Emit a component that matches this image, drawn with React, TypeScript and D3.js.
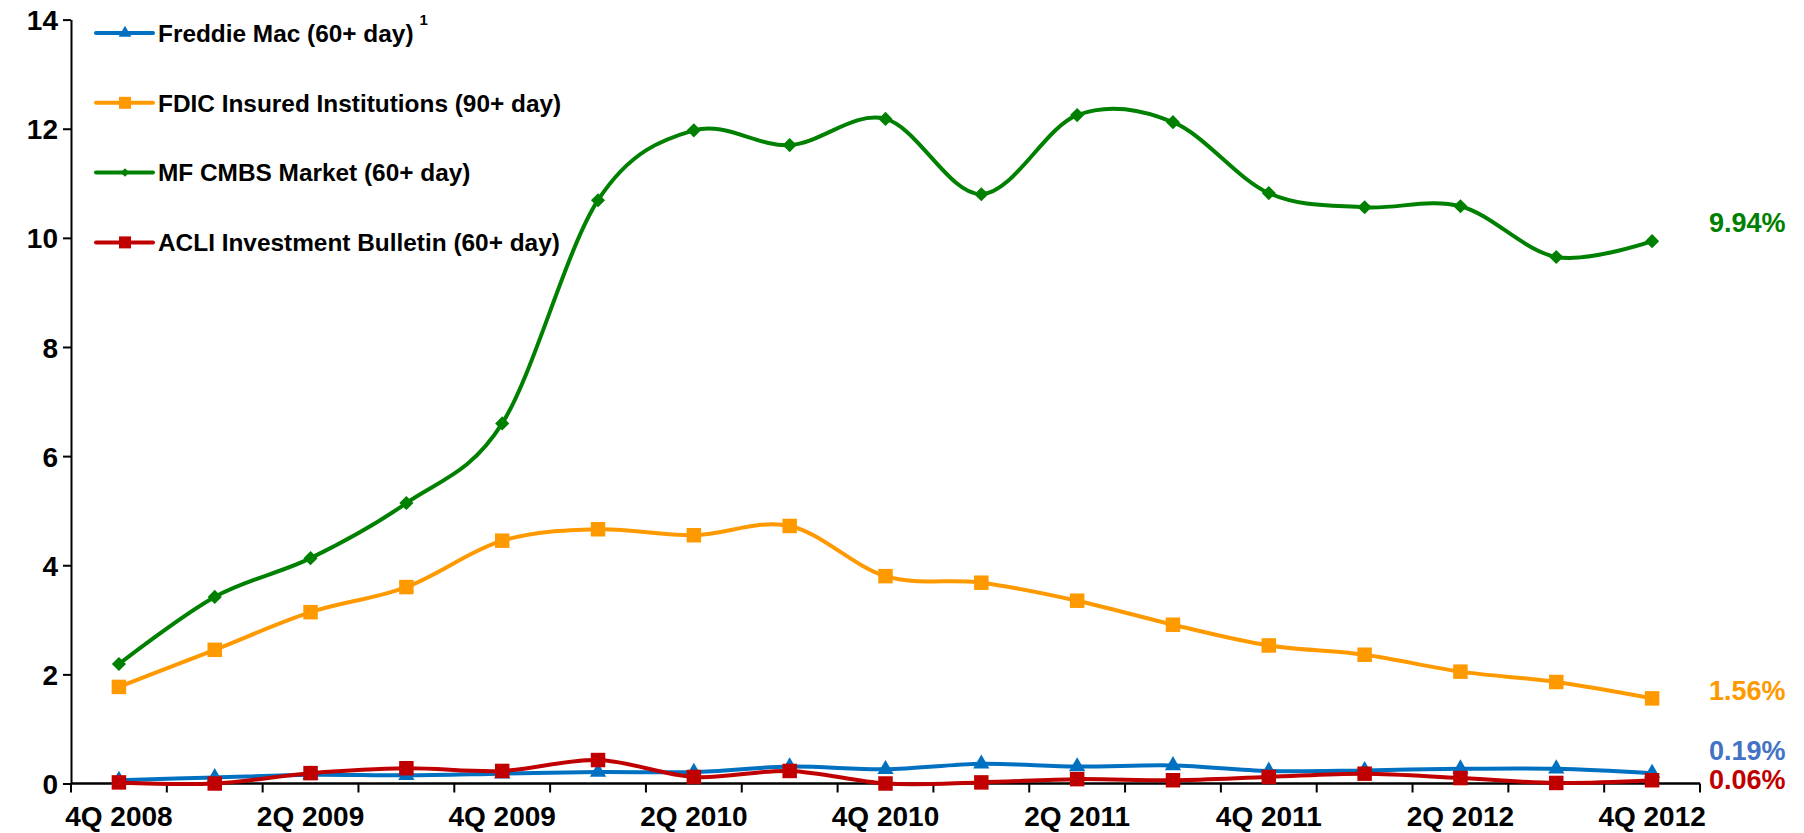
import React, { useEffect, useRef } from 'react';
import * as d3 from 'd3';

const WIDTH = 1804;
const HEIGHT = 833;

const quarters = [
  '4Q 2008', '1Q 2009', '2Q 2009', '3Q 2009', '4Q 2009', '1Q 2010', '2Q 2010', '3Q 2010', '4Q 2010',
  '1Q 2011', '2Q 2011', '3Q 2011', '4Q 2011', '1Q 2012', '2Q 2012', '3Q 2012', '4Q 2012',
];

const freddie = [0.06, 0.11, 0.16, 0.15, 0.18, 0.21, 0.21, 0.31, 0.26, 0.36, 0.31, 0.33, 0.23, 0.24, 0.27, 0.27, 0.19];
const fdic = [1.77, 2.45, 3.14, 3.6, 4.45, 4.66, 4.55, 4.72, 3.8, 3.68, 3.35, 2.91, 2.53, 2.36, 2.05, 1.86, 1.56];
const cmbs = [2.19, 3.42, 4.13, 5.14, 6.6, 10.69, 11.97, 11.7, 12.18, 10.8, 12.25, 12.12, 10.82, 10.56, 10.58, 9.65, 9.94];
const acli = [0.02, 0.0, 0.19, 0.28, 0.23, 0.43, 0.12, 0.23, 0.0, 0.02, 0.08, 0.06, 0.12, 0.18, 0.10, 0.01, 0.06];

const yTicks = [0, 2, 4, 6, 8, 10, 12, 14];

const series = [
  { name: 'Freddie Mac (60+ day)', sup: '1', values: freddie, color: '#0070C0', labelColor: '#4472C4', marker: 'triangle', endLabel: '0.19%', labelDy: -23 },
  { name: 'FDIC Insured Institutions (90+ day)', sup: '', values: fdic, color: '#FF9900', labelColor: '#FF9900', marker: 'square', endLabel: '1.56%', labelDy: -8 },
  { name: 'MF CMBS Market (60+ day)', sup: '', values: cmbs, color: '#008000', labelColor: '#008000', marker: 'diamond', endLabel: '9.94%', labelDy: -19 },
  { name: 'ACLI Investment Bulletin (60+ day)', sup: '', values: acli, color: '#C00000', labelColor: '#C00000', marker: 'square', endLabel: '0.06%', labelDy: -1 },
];

const FONT = '"Liberation Sans", Arial, sans-serif';

const markerPath = (type, big) => {
  if (type === 'triangle') return d3.symbol(d3.symbolTriangle, big ? 115 : 70)();
  if (type === 'diamond') return d3.symbol(d3.symbolSquare, big ? 100 : 36)();
  return d3.symbol(d3.symbolSquare, big ? 210 : 144)();
};

export default function App() {
  const ref = useRef(null);

  useEffect(() => {
    const svg = d3.select(ref.current);
    svg.selectAll('*').remove();

    const x = d3.scaleBand().domain(quarters).range([71, 1700]).padding(0);
    const cx = (q) => x(q) + x.bandwidth() / 2;
    const y = d3.scaleLinear().domain([0, 14]).range([783.5, 19.6]);

    // y axis
    const yAxis = svg.append('g').attr('transform', 'translate(71,0)')
      .call(d3.axisLeft(y).tickValues(yTicks).tickSize(8).tickSizeOuter(0).tickPadding(5));
    yAxis.select('.domain').attr('stroke', '#000').attr('stroke-width', 2);
    yAxis.selectAll('.tick line').attr('stroke', '#000').attr('stroke-width', 2);
    yAxis.selectAll('.tick text')
      .attr('font-family', FONT).attr('font-weight', 'bold').attr('font-size', 28).attr('fill', '#000')
      .attr('dy', '0.36em');

    // x axis: ticks at band boundaries
    const xAxis = svg.append('g').attr('transform', `translate(0,${y(0)})`);
    xAxis.append('line').attr('x1', 71).attr('x2', 1700).attr('stroke', '#000').attr('stroke-width', 2.5);
    const bounds = quarters.map(q => x(q)).concat([x(quarters[quarters.length - 1]) + x.bandwidth()]);
    xAxis.selectAll('.xt').data(bounds).enter().append('line')
      .attr('x1', d => d).attr('x2', d => d).attr('y1', 0).attr('y2', 9)
      .attr('stroke', '#000').attr('stroke-width', 2);
    xAxis.selectAll('.xl').data(quarters.filter((q, i) => i % 2 === 0)).enter().append('text')
      .attr('x', d => cx(d)).attr('y', 42.5)
      .attr('text-anchor', 'middle')
      .attr('font-family', FONT).attr('font-weight', 'bold').attr('font-size', 28).attr('fill', '#000')
      .text(d => d);

    const line = d3.line()
      .x((d, i) => cx(quarters[i]))
      .y(d => y(d))
      .curve(d3.curveCardinal.tension(0));

    series.forEach(s => {
      const g = svg.append('g');
      g.append('path').datum(s.values)
        .attr('d', line)
        .attr('fill', 'none')
        .attr('stroke', s.color)
        .attr('stroke-width', 4);
      g.selectAll('.m').data(s.values).enter().append('path')
        .attr('d', markerPath(s.marker, true))
        .attr('fill', s.color)
        .attr('transform', (d, i) => `translate(${cx(quarters[i])},${y(d)})${s.marker === 'diamond' ? ' rotate(45)' : ''}`);

      const last = s.values[s.values.length - 1];
      svg.append('text')
        .attr('x', 1709).attr('y', y(last) + s.labelDy)
        .attr('dy', '0.36em')
        .attr('font-family', FONT).attr('font-weight', 'bold').attr('font-size', 27)
        .attr('fill', s.labelColor)
        .text(s.endLabel);
    });

    // legend
    const legend = svg.append('g');
    series.forEach((s, i) => {
      const ly = 33 + i * 69.8;
      legend.append('line').attr('x1', 96).attr('x2', 153).attr('y1', ly).attr('y2', ly)
        .attr('stroke', s.color).attr('stroke-width', 4).attr('stroke-linecap', 'round');
      legend.append('path')
        .attr('d', markerPath(s.marker, false))
        .attr('fill', s.color)
        .attr('transform', `translate(125,${ly})${s.marker === 'diamond' ? ' rotate(45)' : ''}`);
      const t = legend.append('text')
        .attr('x', 158).attr('y', ly).attr('dy', '0.36em')
        .attr('font-family', FONT).attr('font-weight', 'bold').attr('font-size', 24.4).attr('fill', '#000')
        .text(s.name);
      if (s.sup) {
        const w = t.node().getComputedTextLength();
        legend.append('text')
          .attr('x', 158 + w + 6).attr('y', ly - 8)
          .attr('font-family', FONT).attr('font-weight', 'bold').attr('font-size', 15).attr('fill', '#000')
          .text(s.sup);
      }
    });
  }, []);

  return (
    <svg ref={ref} width={WIDTH} height={HEIGHT} viewBox={`0 0 ${WIDTH} ${HEIGHT}`}
      style={{ position: 'absolute', left: 0, top: 0, background: '#fff' }} />
  );
}
